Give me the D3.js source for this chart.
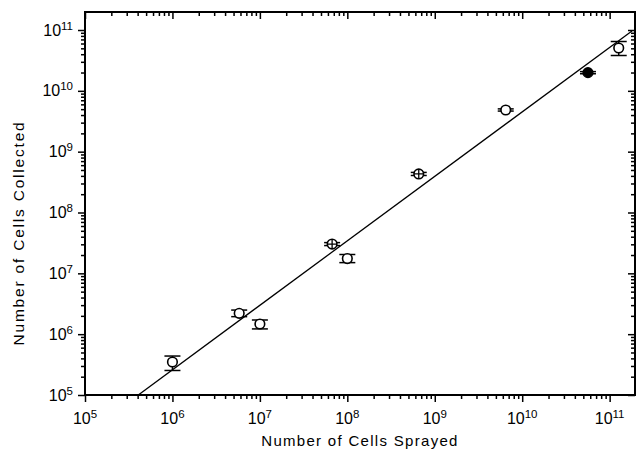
<!DOCTYPE html>
<html>
<head>
<meta charset="utf-8">
<script src="https://cdn.jsdelivr.net/npm/d3@7"></script>
<style>
  body { margin: 0; background: #fff; }
  svg { display: block; }
</style>
</head>
<body>
<script>
// the data
var cellsSprayed   = [1.0e6, 5.8e6, 1.0e7, 6.7e7, 1.0e8, 6.56e8, 6.48e9, 5.65e10, 1.27e11];
var cellsCollected = [3.49e5, 2.2e6, 1.47e6, 3.03e7, 1.75e7, 4.3e8, 4.84e9, 1.99e10, 5.06e10];
var errorLow       = [2.53e5, 1.94e6, 1.22e6, 2.86e7, 1.50e7, 4.06e8, 4.65e9, 1.91e10, 3.81e10];
var errorHigh      = [4.37e5, 2.49e6, 1.71e6, 3.20e7, 2.04e7, 4.56e8, 5.05e9, 2.07e10, 6.47e10];
var markerType     = ["open", "open", "open", "crossed", "open", "crossed", "open", "filled", "open"];

// fitted line: log10(y) = fitIntercept + fitSlope * log10(x)
var fitSlope = 1.06;
var fitIntercept = -0.9455;
var fitRange = [4.07e5, 1.8e11];

// tick exponents
var majorExponents = [5, 6, 7, 8, 9, 10, 11];

// defines all the margins
var width = 637;
var height = 455;
var plotLeft = 85, plotRight = 635, plotTop = 12, plotBottom = 395;
var font = "'Liberation Sans', Arial, Helvetica, sans-serif";

var xScale = d3.scaleLog()
               .domain([1e5, Math.pow(10, 11.29)])
               .range([plotLeft, plotRight]);

var yScale = d3.scaleLog()
               .domain([1e5, Math.pow(10, 11.296)])
               .range([plotBottom, plotTop]);

var majors = majorExponents.map(function(e) { return Math.pow(10, e); });
var minors = [];
majorExponents.forEach(function(e) {
  for (var m = 2; m <= 9; m++) {
    var v = m * Math.pow(10, e);
    if (v < Math.pow(10, 11.29)) minors.push(v);
  }
});

var svg = d3.select("body")
            .append("svg")
            .attr("width", width)
            .attr("height", height);

// helper that draws one set of ticks and strips the domain line
function ticks(axis, values, size, transform) {
  var g = svg.append("g")
             .attr("transform", transform)
             .call(axis.tickValues(values).tickSize(size).tickFormat(""));
  g.select(".domain").remove();
  g.selectAll("line").attr("stroke", "#000").attr("stroke-width", 1.5);
  return g;
}

// bottom and left ticks point out, top and right point in
ticks(d3.axisBottom(xScale), majors, 7, "translate(0," + plotBottom + ")");
ticks(d3.axisBottom(xScale), minors, 4, "translate(0," + plotBottom + ")");
ticks(d3.axisTop(xScale), majors, -7, "translate(0," + plotTop + ")");
ticks(d3.axisTop(xScale), minors, -4, "translate(0," + plotTop + ")");
ticks(d3.axisLeft(yScale), majors, 7, "translate(" + plotLeft + ",0)");
ticks(d3.axisLeft(yScale), minors, 4, "translate(" + plotLeft + ",0)");
ticks(d3.axisRight(yScale), majors, -7, "translate(" + plotRight + ",0)");
ticks(d3.axisRight(yScale), minors, -4, "translate(" + plotRight + ",0)");

// frame
svg.append("rect")
   .attr("x", plotLeft)
   .attr("y", plotTop)
   .attr("width", plotRight - plotLeft)
   .attr("height", plotBottom - plotTop)
   .attr("fill", "none")
   .attr("stroke", "#000")
   .attr("stroke-width", 2);

// x tick labels with superscripts
var xLabels = svg.selectAll(".xlab")
   .data(majorExponents)
   .enter()
   .append("text")
   .attr("class", "xlab")
   .attr("x", function(e) { return xScale(Math.pow(10, e)); })
   .attr("y", 424)
   .attr("text-anchor", "middle")
   .style("font-family", font)
   .style("font-size", "16px");
xLabels.append("tspan").text("10");
xLabels.append("tspan").attr("dy", -6).style("font-size", "11.5px").text(function(e) { return e; });

// y tick labels with superscripts
var yLabels = svg.selectAll(".ylab")
   .data(majorExponents)
   .enter()
   .append("text")
   .attr("class", "ylab")
   .attr("x", 73)
   .attr("y", function(e) { return yScale(Math.pow(10, e)) + 5.5; })
   .attr("text-anchor", "end")
   .style("font-family", font)
   .style("font-size", "16px");
yLabels.append("tspan").text("10");
yLabels.append("tspan").attr("dy", -6).style("font-size", "11.5px").text(function(e) { return e; });

// fitted line
var line = d3.line()
             .x(function(d) { return xScale(d); })
             .y(function(d) { return yScale(Math.pow(10, fitIntercept + fitSlope * Math.log10(d))); });

svg.append("path")
   .datum(fitRange)
   .attr("d", line)
   .attr("fill", "none")
   .attr("stroke", "#000")
   .attr("stroke-width", 1.3);

// error bars
var idx = d3.range(cellsSprayed.length);
var bars = svg.selectAll(".bar")
   .data(idx)
   .enter()
   .append("g")
   .attr("stroke", "#000")
   .attr("stroke-width", 1.5);

bars.append("line")
    .attr("x1", function(i) { return xScale(cellsSprayed[i]); })
    .attr("x2", function(i) { return xScale(cellsSprayed[i]); })
    .attr("y1", function(i) { return yScale(errorLow[i]); })
    .attr("y2", function(i) { return yScale(errorHigh[i]); });

[errorLow, errorHigh].forEach(function(arr) {
  bars.append("line")
      .attr("x1", function(i) { return xScale(cellsSprayed[i]) - 8; })
      .attr("x2", function(i) { return xScale(cellsSprayed[i]) + 8; })
      .attr("y1", function(i) { return yScale(arr[i]); })
      .attr("y2", function(i) { return yScale(arr[i]); });
});

// makes dots
svg.selectAll(".dot")
   .data(idx)
   .enter()
   .append("circle")
   .attr("cx", function(i) { return xScale(cellsSprayed[i]); })
   .attr("cy", function(i) { return yScale(cellsCollected[i]); })
   .attr("r", 4.8)
   .attr("fill", function(i) { return markerType[i] == "filled" ? "#000" : "#fff"; })
   .attr("stroke", "#000")
   .attr("stroke-width", 1.6);

// crosses inside the crossed markers
var crossed = idx.filter(function(i) { return markerType[i] == "crossed"; });
svg.selectAll(".cross")
   .data(crossed)
   .enter()
   .append("path")
   .attr("d", function(i) {
     var cx = xScale(cellsSprayed[i]), cy = yScale(cellsCollected[i]);
     return "M" + (cx - 4.8) + "," + cy + "H" + (cx + 4.8) + "M" + cx + "," + (cy - 4.8) + "V" + (cy + 4.8);
   })
   .attr("stroke", "#000")
   .attr("stroke-width", 1.3);

// gives a title to the x axis
svg.append("text")
   .attr("x", (plotLeft + plotRight) / 2)
   .attr("y", 446)
   .attr("text-anchor", "middle")
   .style("font-family", font)
   .style("font-size", "15px")
   .style("letter-spacing", "1.3px")
   .text("Number of Cells Sprayed");

// gives a title to the y axis
svg.append("text")
   .attr("text-anchor", "middle")
   .attr("transform", "translate(24,233)rotate(-90)")
   .style("font-family", font)
   .style("font-size", "15.5px")
   .style("letter-spacing", "1.8px")
   .text("Number of Cells Collected");
</script>
</body>
</html>
